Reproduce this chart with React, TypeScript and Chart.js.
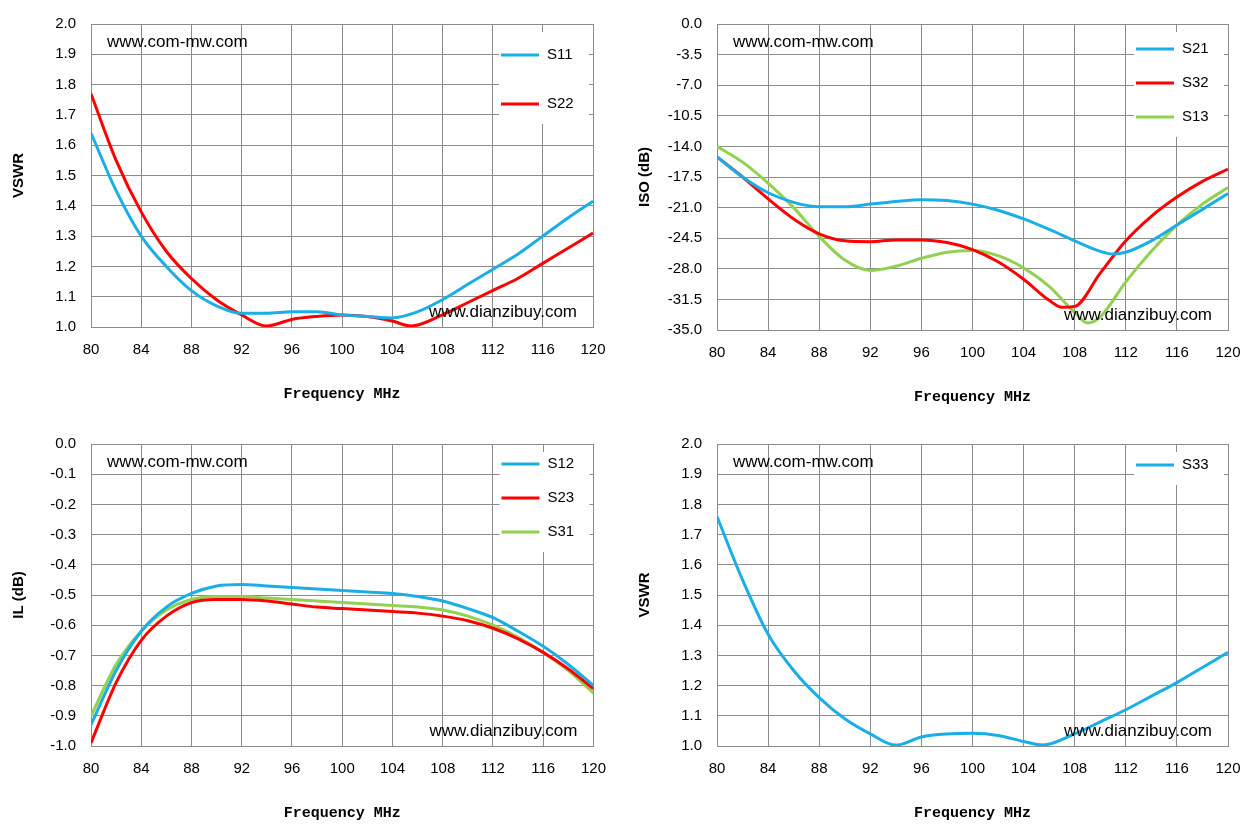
import React, { useEffect, useRef } from "react";
import { Chart, registerables } from "chart.js";
Chart.register(...registerables);

const freqs = [80,82,84,86,88,90,92,94,96,98,100,102,104,106,108,110,112,114,116,118,120];
const s11 = [1.64,1.45,1.30,1.20,1.12,1.07,1.045,1.045,1.05,1.05,1.04,1.035,1.03,1.05,1.09,1.14,1.19,1.24,1.30,1.36,1.415];
const fS22 = [80,82,84,86,88,90,92,94,96,98,100,102,104,105.5,108,110,112,114,116,118,120];
const s22 = [1.77,1.55,1.38,1.25,1.16,1.09,1.04,1.003,1.025,1.035,1.04,1.035,1.02,1.003,1.04,1.08,1.12,1.16,1.21,1.26,1.31];
const fS21 = [80,82,84,86,88,90,92,94,96,98,100,102,104,106,108,110,111,112,114,116,118,120];
const s21 = [-15.2,-17.5,-19.3,-20.4,-20.9,-20.9,-20.6,-20.3,-20.1,-20.2,-20.6,-21.3,-22.3,-23.5,-24.8,-26.0,-26.3,-26.1,-24.8,-23.0,-21.2,-19.4];
const fS32 = [80,82,84,86,88,90,92,94,96,98,100,102,104,106,107,108,110,112,114,116,118,120];
const s32 = [-15.2,-17.5,-20.0,-22.3,-24.0,-24.8,-24.9,-24.7,-24.7,-25.0,-25.8,-27.2,-29.2,-31.6,-32.4,-32.3,-28.5,-24.8,-22.0,-19.8,-18.0,-16.6];
const fS13 = [80,82,84,86,88,90,92,94,96,98,100,102,104,106,108,109,110,112,114,116,118,120];
const s13 = [-14.0,-15.8,-18.2,-21.0,-24.3,-27.0,-28.2,-27.7,-26.8,-26.1,-25.9,-26.5,-27.9,-30.0,-33.0,-34.2,-33.5,-29.5,-26.0,-23.0,-20.6,-18.7];
const s12 = [-0.93,-0.75,-0.62,-0.54,-0.495,-0.47,-0.465,-0.47,-0.475,-0.48,-0.485,-0.49,-0.495,-0.505,-0.52,-0.545,-0.575,-0.62,-0.67,-0.73,-0.80];
const s23 = [-0.99,-0.79,-0.65,-0.57,-0.525,-0.515,-0.515,-0.52,-0.53,-0.54,-0.545,-0.55,-0.555,-0.56,-0.57,-0.585,-0.61,-0.645,-0.69,-0.745,-0.81];
const s31 = [-0.90,-0.73,-0.62,-0.55,-0.515,-0.505,-0.505,-0.51,-0.515,-0.52,-0.525,-0.53,-0.535,-0.54,-0.55,-0.57,-0.60,-0.64,-0.69,-0.75,-0.825];
const s33 = [1.76,1.55,1.37,1.25,1.16,1.09,1.04,1.003,1.03,1.04,1.042,1.035,1.015,1.003,1.04,1.08,1.12,1.165,1.21,1.26,1.31];

const BLUE = "#1aaee6", RED = "#ff0000", GREEN = "#92d050";
const pts = (xs: number[], ys: number[]) => xs.map((x, i) => ({ x, y: ys[i] }));

type Panel = {
  left: number; top: number; width: number; height: number; padTop: number; padBottom: number; padRight: number;
  yTitle: string; yMin: number; yMax: number; yStep: number;
  series: { label: string; color: string; data: { x: number; y: number }[] }[];
  legendGap: number; legendTop: number;
};

const panels: Panel[] = [
  { left: 0, top: 0, width: 620, height: 410, padTop: 18, padBottom: 3, padRight: 27, yTitle: "VSWR", yMin: 1, yMax: 2, yStep: 0.1,
    series: [{ label: "S11", color: BLUE, data: pts(freqs, s11) }, { label: "S22", color: RED, data: pts(fS22, s22) }], legendGap: 49, legendTop: 31 },
  { left: 626, top: 0, width: 633, height: 413, padTop: 18, padBottom: 3, padRight: 31, yTitle: "ISO (dB)", yMin: -35, yMax: 0, yStep: 3.5,
    series: [{ label: "S21", color: BLUE, data: pts(fS21, s21) }, { label: "S32", color: RED, data: pts(fS32, s32) }, { label: "S13", color: GREEN, data: pts(fS13, s13) }], legendGap: 34, legendTop: 25 },
  { left: 0, top: 418, width: 620, height: 410, padTop: 26, padBottom: 2, padRight: 26, yTitle: "IL (dB)", yMin: -1, yMax: 0, yStep: 0.1,
    series: [{ label: "S12", color: BLUE, data: pts(freqs, s12) }, { label: "S23", color: RED, data: pts(freqs, s23) }, { label: "S31", color: GREEN, data: pts(freqs, s31) }], legendGap: 34, legendTop: 20 },
  { left: 626, top: 418, width: 633, height: 410, padTop: 26, padBottom: 2, padRight: 31, yTitle: "VSWR", yMin: 1, yMax: 2, yStep: 0.1,
    series: [{ label: "S33", color: BLUE, data: pts(fS22, s33) }], legendGap: 34, legendTop: 21 },
];

function ChartPanel({ p }: { p: Panel }) {
  const ref = useRef<HTMLCanvasElement>(null);
  useEffect(() => {
    const deco = {
      id: "deco",
      beforeDatasetsDraw(chart: any) {
        const { ctx, chartArea: a } = chart;
        const lx = a.right - 92;
        const n = p.series.length;
        ctx.save();
        ctx.fillStyle = "#fff";
        ctx.fillRect(lx - 2, a.top + 8, 90, p.legendTop + (n - 1) * p.legendGap + 12);
        ctx.restore();
      },
      afterDatasetsDraw(chart: any) {
        const { ctx, chartArea: a } = chart;
        ctx.save();
        ctx.font = "17px 'Liberation Sans', Arial";
        ctx.fillStyle = "#000";
        ctx.textBaseline = "middle";
        ctx.textAlign = "left";
        ctx.fillText("www.com-mw.com", a.left + 16, a.top + 18);
        ctx.textAlign = "right";
        ctx.fillText("www.dianzibuy.com", a.right - 16, a.bottom - 15);
        const lx = a.right - 92;
        ctx.font = "15px 'Liberation Sans', Arial";
        ctx.textAlign = "left";
        p.series.forEach((s, i) => {
          const y = a.top + p.legendTop + i * p.legendGap;
          ctx.strokeStyle = s.color; ctx.lineWidth = 3;
          ctx.beginPath(); ctx.moveTo(lx, y); ctx.lineTo(lx + 38, y); ctx.stroke();
          ctx.fillStyle = "#000";
          ctx.fillText(s.label, lx + 46, y);
        });
        ctx.restore();
      },
    };
    const chart = new Chart(ref.current!, {
      type: "line",
      data: { datasets: p.series.map(s => ({ label: s.label, data: s.data, borderColor: s.color, borderWidth: 3, pointRadius: 0, tension: 0.4, cubicInterpolationMode: "monotone" as const })) },
      options: {
        animation: false, responsive: false, maintainAspectRatio: false,
        layout: { padding: { top: p.padTop, bottom: p.padBottom, left: 6, right: p.padRight } },
        plugins: { legend: { display: false }, tooltip: { enabled: false } },
        scales: {
          x: { type: "linear", min: 80, max: 120,
            ticks: { stepSize: 4, color: "#000", font: { size: 15, family: "'Liberation Sans', Arial" }, padding: 14 },
            grid: { color: "#8c8c8c", tickLength: 0 }, border: { color: "#8c8c8c" },
            title: { display: true, text: "Frequency MHz", color: "#000", font: { size: 15, weight: "bold", family: "'Liberation Mono', 'DejaVu Sans Mono', monospace" }, padding: { top: 0 } },
            afterFit: (s: any) => { s.height = 80; } },
          y: { min: p.yMin, max: p.yMax,
            ticks: { stepSize: p.yStep, color: "#000", font: { size: 15, family: "'Liberation Sans', Arial" }, callback: (v: any) => Number(v).toFixed(1), padding: 15 },
            grid: { color: "#8c8c8c", tickLength: 0 }, border: { color: "#8c8c8c" },
            title: { display: true, text: p.yTitle, color: "#000", font: { size: 15, weight: "bold", family: "'Liberation Sans', Arial" } },
            afterFit: (s: any) => { s.width = 85; } },
        },
      },
      plugins: [deco],
    } as any);
    return () => chart.destroy();
  }, [p]);
  return (
    <div style={{ position: "absolute", left: p.left, top: p.top, width: p.width, height: p.height }}>
      <canvas ref={ref} width={p.width} height={p.height} style={{ width: p.width, height: p.height }} />
    </div>
  );
}

export default function App() {
  return (
    <div style={{ position: "fixed", left: 0, top: 0, width: 1259, height: 835, background: "#fff" }}>
      {panels.map((p, i) => <ChartPanel key={i} p={p} />)}
    </div>
  );
}
